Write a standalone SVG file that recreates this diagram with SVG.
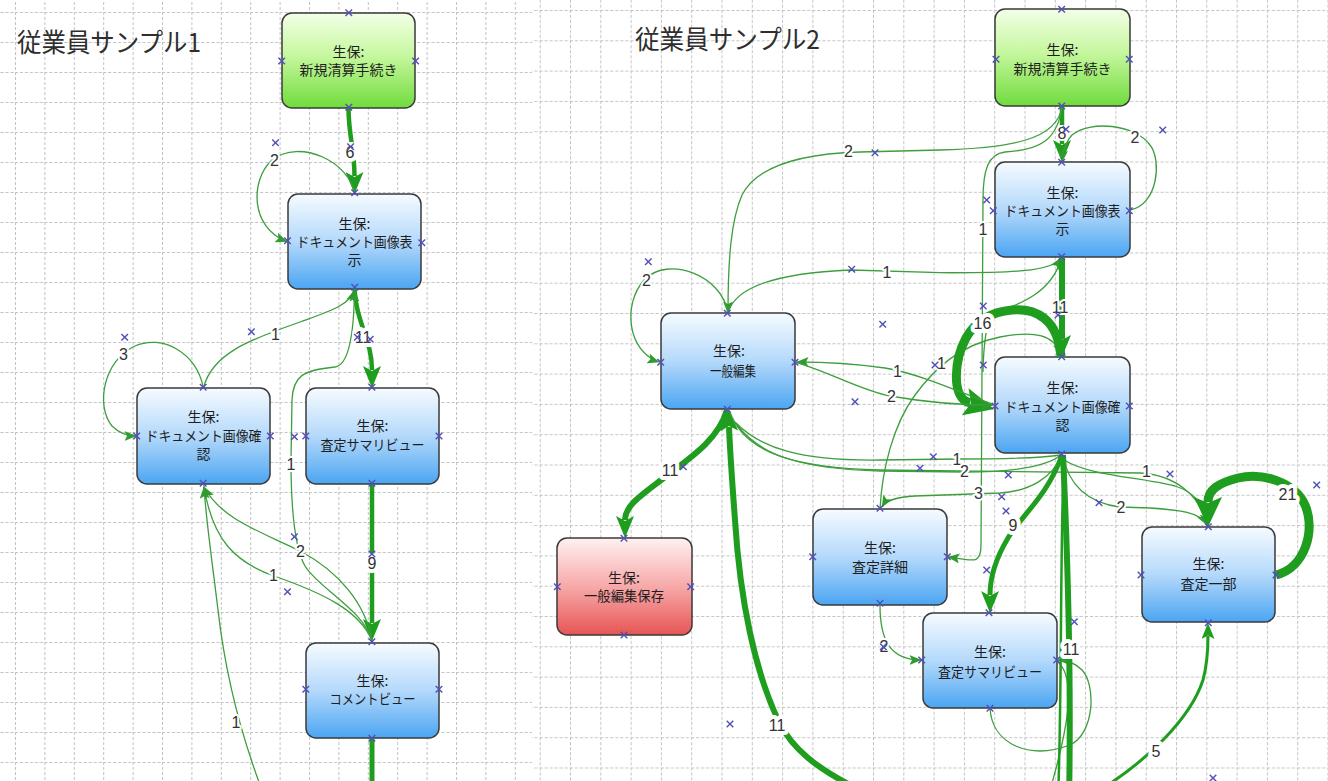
<svg xmlns="http://www.w3.org/2000/svg" width="1328" height="781" viewBox="0 0 1328 781">
<style>
.box{stroke:#3a3a3a;stroke-width:1.5}
.nt{font-family:"Noto Sans CJK JP","Noto Sans",sans-serif;font-size:14px;fill:#1e1e1e;text-anchor:middle}
.title{font-family:"Noto Sans CJK JP","Noto Sans",sans-serif;font-size:26px;fill:#2e2e2e}
.t{fill:none;stroke:#3c9e3c;stroke-width:1.3}
.k{fill:none;stroke:#1f9d1f}
.lbl{font-family:"Liberation Sans",Arial,sans-serif;font-size:16px;fill:#333;text-anchor:middle;stroke:#fff;stroke-width:4;stroke-linejoin:round;paint-order:stroke}
.lk{stroke-width:8}
</style>
<defs>
<pattern id="gridL" x="15" y="12" width="29.4" height="30" patternUnits="userSpaceOnUse"><path d="M0.5,0 V30 M0,0.5 H29.4" fill="none" stroke="#c2c2c2" stroke-width="1" stroke-dasharray="3,2"/></pattern>
<pattern id="gridR" x="570" y="10" width="30.3" height="30.3" patternUnits="userSpaceOnUse"><path d="M0.5,0 V30.3 M0,0.5 H30.3" fill="none" stroke="#c2c2c2" stroke-width="1" stroke-dasharray="3,2"/></pattern>
<linearGradient id="gG" x1="0" y1="0" x2="0" y2="1"><stop offset="0" stop-color="#f3ffe8"/><stop offset="0.45" stop-color="#c6f79e"/><stop offset="1" stop-color="#70dc3c"/></linearGradient>
<linearGradient id="gB" x1="0" y1="0" x2="0" y2="1"><stop offset="0" stop-color="#f6fbff"/><stop offset="0.5" stop-color="#b4d9fb"/><stop offset="1" stop-color="#4ba5f2"/></linearGradient>
<linearGradient id="gR" x1="0" y1="0" x2="0" y2="1"><stop offset="0" stop-color="#fff1f1"/><stop offset="0.5" stop-color="#f7a9a9"/><stop offset="1" stop-color="#e65555"/></linearGradient>
<marker id="aS" viewBox="0 0 12 10" markerWidth="12" markerHeight="10" refX="11.5" refY="5" orient="auto" markerUnits="userSpaceOnUse"><path d="M0,0 L12,5 L0,10 L2.5,5 z" fill="#2e9c2e"/></marker>
<marker id="aM" viewBox="0 0 22 18" markerWidth="22" markerHeight="18" refX="4" refY="9" orient="auto" markerUnits="userSpaceOnUse"><path d="M0,0 L22,9 L0,18 L5,9 z" fill="#1f9d1f"/></marker>
<marker id="aL" viewBox="0 0 30 28" markerWidth="30" markerHeight="28" refX="5" refY="14" orient="auto" markerUnits="userSpaceOnUse"><path d="M0,0 L30,14 L0,28 L6,14 z" fill="#1f9d1f"/></marker>
<marker id="a5" viewBox="0 0 16 13" markerWidth="16" markerHeight="13" refX="3" refY="6.5" orient="auto" markerUnits="userSpaceOnUse"><path d="M0,0 L16,6.5 L0,13 L3.5,6.5 z" fill="#1f9d1f"/></marker>
<path id="xm" d="M-3.3,-3.3 L3.3,3.3 M-3.3,3.3 L3.3,-3.3" fill="none" stroke="#5050b8" stroke-width="1.4"/>
</defs>
<rect width="1328" height="781" fill="#fff"/>
<rect x="0" y="0" width="532" height="781" fill="url(#gridL)"/>
<rect x="532" y="0" width="796" height="781" fill="url(#gridR)"/>
<text class="title" x="17" y="52" textLength="184" lengthAdjust="spacingAndGlyphs">従業員サンプル1</text>
<text class="title" x="635" y="49" textLength="185" lengthAdjust="spacingAndGlyphs">従業員サンプル2</text>

<g id="nodes">
<g id="l-start"><rect class="box" x="282" y="13" width="133" height="95" rx="10" fill="url(#gG)"/><text class="nt" x="348.5" y="57">生保:</text><text class="nt" x="348.5" y="75">新規清算手続き</text></g>
<g id="l-docview"><rect class="box" x="288" y="194" width="133" height="95" rx="10" fill="url(#gB)"/><text class="nt" x="354.5" y="229">生保:</text><text class="nt" x="354.5" y="247" textLength="116" lengthAdjust="spacingAndGlyphs">ドキュメント画像表</text><text class="nt" x="354.5" y="265">示</text></g>
<g id="l-doccheck"><rect class="box" x="137" y="388" width="133" height="96" rx="10" fill="url(#gB)"/><text class="nt" x="203.5" y="422">生保:</text><text class="nt" x="203.5" y="441" textLength="116" lengthAdjust="spacingAndGlyphs">ドキュメント画像確</text><text class="nt" x="203.5" y="459">認</text></g>
<g id="l-summary"><rect class="box" x="306" y="388" width="133" height="96" rx="10" fill="url(#gB)"/><text class="nt" x="372.5" y="431">生保:</text><text class="nt" x="372.5" y="450" textLength="104" lengthAdjust="spacingAndGlyphs">査定サマリビュー</text></g>
<g id="l-comment"><rect class="box" x="306" y="643" width="133" height="95" rx="10" fill="url(#gB)"/><text class="nt" x="372.5" y="686">生保:</text><text class="nt" x="372.5" y="704" textLength="86" lengthAdjust="spacingAndGlyphs">コメントビュー</text></g>

<g id="r-start"><rect class="box" x="995" y="9" width="135" height="97" rx="10" fill="url(#gG)"/><text class="nt" x="1062.5" y="55">生保:</text><text class="nt" x="1062.5" y="74">新規清算手続き</text></g>
<g id="r-docview"><rect class="box" x="995" y="162" width="135" height="95" rx="10" fill="url(#gB)"/><text class="nt" x="1062.5" y="198">生保:</text><text class="nt" x="1062.5" y="216" textLength="116" lengthAdjust="spacingAndGlyphs">ドキュメント画像表</text><text class="nt" x="1062.5" y="234">示</text></g>
<g id="r-doccheck"><rect class="box" x="995" y="357" width="135" height="96" rx="10" fill="url(#gB)"/><text class="nt" x="1062.5" y="393">生保:</text><text class="nt" x="1062.5" y="412" textLength="116" lengthAdjust="spacingAndGlyphs">ドキュメント画像確</text><text class="nt" x="1062.5" y="430">認</text></g>
<g id="r-edit"><rect class="box" x="661" y="313" width="134" height="96" rx="10" fill="url(#gB)"/><text class="nt" x="729" y="356">生保:</text><text class="nt" x="733" y="376" textLength="46" lengthAdjust="spacingAndGlyphs">一般編集</text></g>
<g id="r-save"><rect class="box" x="557" y="538" width="135" height="97" rx="10" fill="url(#gR)"/><text class="nt" x="624" y="583">生保:</text><text class="nt" x="624" y="601" textLength="80" lengthAdjust="spacingAndGlyphs">一般編集保存</text></g>
<g id="r-detail"><rect class="box" x="813" y="509" width="134" height="96" rx="10" fill="url(#gB)"/><text class="nt" x="880" y="553">生保:</text><text class="nt" x="880" y="572">査定詳細</text></g>
<g id="r-summary"><rect class="box" x="923" y="613" width="134" height="95" rx="10" fill="url(#gB)"/><text class="nt" x="990" y="657">生保:</text><text class="nt" x="990" y="677" textLength="104" lengthAdjust="spacingAndGlyphs">査定サマリビュー</text></g>
<g id="r-part"><rect class="box" x="1142" y="527" width="133" height="95" rx="10" fill="url(#gB)"/><text class="nt" x="1208.5" y="569">生保:</text><text class="nt" x="1208.5" y="589">査定一部</text></g>
</g>

<g id="connectors">
<path class="k" stroke-width="4.5" marker-end="url(#aM)" d="M348.5,108 C348.5,135 354.5,150 354.5,176"/>
<path class="t" marker-end="url(#aS)" d="M354.5,194 C350,162 300,138 272,160 C250,180 250,228 287,241.5"/>
<path class="k" stroke-width="4.5" marker-end="url(#aM)" d="M354.5,289 C356,322 372,340 372,370"/>
<path class="t" marker-end="url(#aS)" d="M203.5,388 C212,352 255,338 300,322 C330,311 350,305 354.5,290"/>
<path class="t" marker-end="url(#aS)" d="M203.5,388 C196,352 162,334 135,346 C104,360 95,405 112,426 C120,434 128,436 136,436"/>
<path class="k" stroke-width="4.5" marker-end="url(#aM)" d="M372,484 L372,623"/>
<path class="t" marker-end="url(#aS)" d="M372,641 C366,605 340,572 300,551 C262,532 222,520 204,487"/>
<path class="t" d="M203.5,484 C212,540 235,562 274,576 C320,592 360,610 372,641"/>
<path class="t" marker-end="url(#aS)" d="M372,641 C364,610 318,588 305,566 C293,545 291,500 291,460 L292,400 C293,376 303,370 335,367 C350,365 354,330 354.5,290"/>
<path class="t" marker-end="url(#aS)" d="M262,790 C243,740 226,680 218,610 C212,560 206,520 204,487"/>
<path class="k" stroke-width="5" d="M372,738 L372,790"/>
<path class="k" stroke-width="4.5" marker-end="url(#aM)" d="M1062,106 L1062,144"/>
<path class="t" marker-end="url(#aS)" d="M1062,106 C1058,140 1010,148 940,150 L860,152 C790,154 755,170 742,195 C731,220 728,260 728,313"/>
<path class="t" marker-end="url(#aS)" d="M1130,210 C1158,205 1162,160 1150,145 C1135,124 1090,120 1072,135 C1066,141 1063,150 1062,162"/>
<path class="t" marker-end="url(#aS)" d="M1062,106 C1058,140 1040,150 1005,152 C988,154 983,170 983,200 L981,545 C981,566 972,560 948,557"/>
<path class="t" marker-end="url(#aS)" d="M728,313 C735,287 775,273 851,270 L940,272.7 C1010,273 1052,272 1061,258"/>
<path class="t" d="M1061,259 C1052,292 1020,304 1000,311 C988,316 984,330 983,372"/>
<path class="k" stroke-width="6" marker-end="url(#aM)" d="M1062,257 L1062,339"/>
<path class="t" marker-end="url(#aS)" d="M880,509 C882,470 893,425 915,395 C935,368 960,345 1000,337 C1035,330 1055,335 1061,355"/>
<path class="k" stroke-width="9" marker-end="url(#aL)" d="M1061,357 C1058,318 1035,308 1012,310 C990,312 975,322 966,338 C955,358 950,398 970,403"/>
<path class="t" marker-end="url(#aS)" d="M995,405 C965,395 925,375 885,368 C850,363 820,362 797,362"/>
<path class="t" marker-end="url(#aS)" d="M795,362 C830,372 860,390 890,396 C930,403 965,405 993,405"/>
<path class="t" marker-end="url(#aS)" d="M728,313 C722,275 668,255 644,280 C622,305 628,352 659,362"/>
<path class="k" stroke-width="6" marker-end="url(#aM)" d="M727,410 C718,440 690,458 665,477 C643,494 625,505 625,520"/>
<path class="k" stroke-width="6" marker-end="url(#aM)" d="M860,790 C815,768 792,748 779,722 C755,672 740,600 735,520 C732,480 730,450 729,427"/>
<path class="t" marker-end="url(#aS)" d="M1062,455 C1052,478 1030,491 1000,493 L915,496 C897,497 886,500 882,507"/>
<path class="t" marker-end="url(#aS)" d="M730,412 C745,455 800,468 880,470 L1140,473 C1175,475 1200,495 1207,525"/>
<path class="t" d="M1061,455 C1045,468 1005,472 965,472 L880,471 C800,469 760,455 737,425"/>
<path class="t" d="M1061,455 C1040,458 1000,459 960,459 L880,460 C800,461 760,448 735,422"/>
<path class="t" marker-end="url(#aS)" d="M1063,455 C1068,485 1088,503 1120,507 L1150,508 C1180,510 1200,512 1207,525"/>
<path class="t" d="M1064,460 C1090,476 1140,477 1175,486 C1195,492 1203,505 1207,522"/>
<path class="k" stroke-width="5" marker-end="url(#aM)" d="M1062,455 C1048,495 1022,515 1008,538 C996,558 990,575 990,595"/>
<path class="t" marker-end="url(#aS)" d="M880,605 C880,640 890,660 921,660"/>
<path class="t" marker-end="url(#aS)" d="M990,708 C992,745 1030,760 1070,745 C1095,733 1096,685 1082,670 C1074,662 1066,660 1058,660"/>
<path class="t" d="M1058,662 C1078,680 1066,735 1050,790"/>
<path class="k" stroke-width="6" d="M1063,455 C1066,520 1072,650 1069,800"/>
<path class="k" stroke-width="2.5" d="M1064,458 C1060,540 1062,700 1058,800"/>
<path class="k" stroke-width="3" marker-end="url(#a5)" d="M1100,790 C1145,762 1190,720 1203,680 C1207,665 1208,650 1208,636"/>
<path class="k" stroke-width="9" marker-end="url(#aL)" d="M1276,575 C1305,568 1316,530 1305,505 C1295,482 1262,472 1238,478 C1218,483 1208,490 1208,502"/>
</g>

<g id="labels">
<text class="lbl lk" x="350" y="158">6</text>
<text class="lbl" x="274.5" y="166">2</text>
<text class="lbl lk" x="363" y="343">11</text>
<text class="lbl" x="275.5" y="340">1</text>
<text class="lbl" x="123.5" y="359.5">3</text>
<text class="lbl lk" x="372" y="568.5">9</text>
<text class="lbl" x="300.5" y="556.5">2</text>
<text class="lbl" x="273.5" y="580.5">1</text>
<text class="lbl" x="291" y="470">1</text>
<text class="lbl" x="236" y="728">1</text>
<text class="lbl" x="1062" y="139">8</text>
<text class="lbl" x="848.5" y="157">2</text>
<text class="lbl" x="1135" y="142.5">2</text>
<text class="lbl" x="983" y="234.5">1</text>
<text class="lbl" x="887" y="277.5">1</text>
<text class="lbl" x="1060" y="313">11</text>
<text class="lbl lk" x="982.5" y="329">16</text>
<text class="lbl" x="941.5" y="368.5">1</text>
<text class="lbl" x="897.5" y="376.5">1</text>
<text class="lbl" x="891.5" y="401.5">2</text>
<text class="lbl" x="646.5" y="285.5">2</text>
<text class="lbl lk" x="670" y="475.5">11</text>
<text class="lbl lk" x="777" y="730.5">11</text>
<text class="lbl lk" x="1013" y="531">9</text>
<text class="lbl" x="978.5" y="498.5">3</text>
<text class="lbl" x="1146.5" y="477">1</text>
<text class="lbl" x="957" y="464.5">1</text>
<text class="lbl" x="964.5" y="477">2</text>
<text class="lbl" x="1121" y="513">2</text>
<text class="lbl" x="884" y="651.5">2</text>
<text class="lbl lk" x="1071" y="654.5">11</text>
<text class="lbl lk" x="1156" y="757">5</text>
<text class="lbl lk" x="1287.5" y="499.5">21</text>
</g>

<g id="handles">
<use href="#xm" x="348.8" y="12.7"/><use href="#xm" x="281.7" y="61"/><use href="#xm" x="415.6" y="61"/><use href="#xm" x="348.8" y="107.3"/>
<use href="#xm" x="275.5" y="142.7"/><use href="#xm" x="350.6" y="146.7"/><use href="#xm" x="354.7" y="192.7"/><use href="#xm" x="287.5" y="240.7"/>
<use href="#xm" x="421.8" y="242.7"/><use href="#xm" x="354.7" y="287.3"/><use href="#xm" x="124.7" y="337.3"/><use href="#xm" x="251.4" y="331.7"/>
<use href="#xm" x="357.4" y="337.3"/><use href="#xm" x="370.2" y="339.3"/><use href="#xm" x="203.2" y="387.3"/><use href="#xm" x="371.9" y="387.3"/>
<use href="#xm" x="136.7" y="436"/><use href="#xm" x="270.3" y="436"/><use href="#xm" x="294.4" y="436.7"/><use href="#xm" x="305.8" y="436"/>
<use href="#xm" x="439" y="436"/><use href="#xm" x="203.2" y="483.3"/><use href="#xm" x="371.9" y="483.3"/><use href="#xm" x="294.4" y="536.7"/>
<use href="#xm" x="371.9" y="554"/><use href="#xm" x="287.5" y="591.7"/><use href="#xm" x="371.9" y="641.7"/><use href="#xm" x="305.8" y="689.3"/>
<use href="#xm" x="439" y="689.3"/><use href="#xm" x="371.9" y="738.3"/>
<use href="#xm" x="1061.7" y="9.3"/><use href="#xm" x="996" y="59.3"/><use href="#xm" x="1129.3" y="59.3"/><use href="#xm" x="1061.7" y="106"/>
<use href="#xm" x="1066" y="129.3"/><use href="#xm" x="1162.7" y="130"/><use href="#xm" x="875" y="152.7"/><use href="#xm" x="648.3" y="261.7"/>
<use href="#xm" x="1061.7" y="162.3"/><use href="#xm" x="993.3" y="210.7"/><use href="#xm" x="1129.3" y="210.7"/><use href="#xm" x="1061.7" y="256.7"/>
<use href="#xm" x="986.7" y="200"/><use href="#xm" x="851.7" y="269.3"/><use href="#xm" x="1058" y="315"/><use href="#xm" x="983.3" y="306"/>
<use href="#xm" x="882.7" y="324.3"/><use href="#xm" x="1061.7" y="356.7"/><use href="#xm" x="995" y="406"/><use href="#xm" x="1129.3" y="406"/>
<use href="#xm" x="1061.7" y="454"/><use href="#xm" x="983.3" y="365"/><use href="#xm" x="935" y="365"/><use href="#xm" x="855" y="401.7"/>
<use href="#xm" x="727.3" y="313.3"/><use href="#xm" x="660.7" y="362.3"/><use href="#xm" x="795" y="362.3"/><use href="#xm" x="727.3" y="409.3"/>
<use href="#xm" x="683.3" y="466.7"/><use href="#xm" x="624" y="538.3"/><use href="#xm" x="557.3" y="586.7"/><use href="#xm" x="690.7" y="586.7"/>
<use href="#xm" x="624" y="635"/><use href="#xm" x="933.3" y="456.7"/><use href="#xm" x="920" y="468.3"/><use href="#xm" x="1008.3" y="475"/>
<use href="#xm" x="1001.7" y="496.7"/><use href="#xm" x="1006" y="511"/><use href="#xm" x="986.7" y="570"/><use href="#xm" x="1170" y="474"/>
<use href="#xm" x="1099" y="502.7"/><use href="#xm" x="1316.7" y="485"/><use href="#xm" x="880" y="508.3"/><use href="#xm" x="812.7" y="556.7"/>
<use href="#xm" x="947.3" y="556.7"/><use href="#xm" x="880" y="603.3"/><use href="#xm" x="883.3" y="646.7"/><use href="#xm" x="989" y="612.7"/>
<use href="#xm" x="921.7" y="660"/><use href="#xm" x="1056.7" y="660"/><use href="#xm" x="990" y="708.3"/><use href="#xm" x="1074.3" y="621.7"/>
<use href="#xm" x="1208.3" y="526.7"/><use href="#xm" x="1141" y="575"/><use href="#xm" x="1276" y="575"/><use href="#xm" x="1208.3" y="622.7"/>
<use href="#xm" x="730" y="724"/><use href="#xm" x="1213" y="778"/>
</g>
</svg>
